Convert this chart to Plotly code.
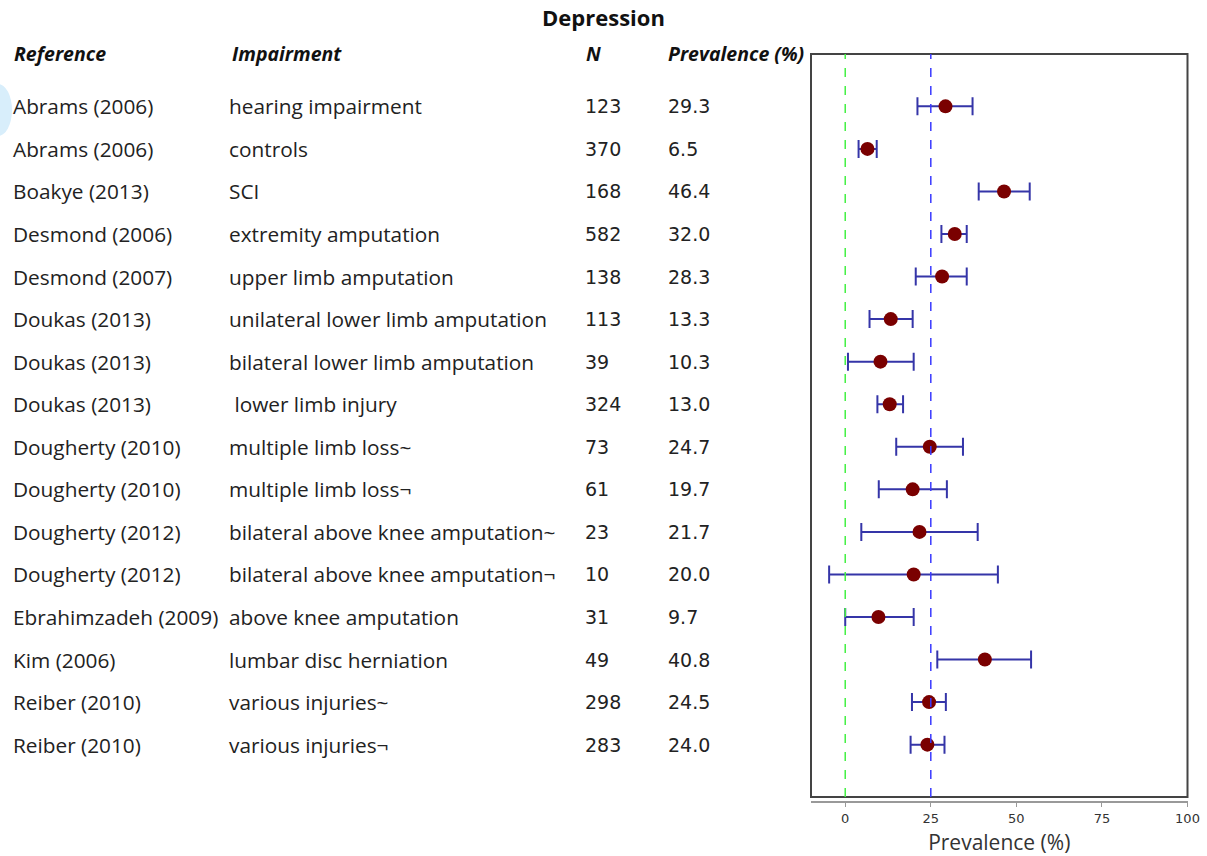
import plotly.graph_objects as go

references = ["Abrams (2006)", "Abrams (2006)", "Boakye (2013)", "Desmond (2006)", "Desmond (2007)",
              "Doukas (2013)", "Doukas (2013)", "Doukas (2013)", "Dougherty (2010)", "Dougherty (2010)",
              "Dougherty (2012)", "Dougherty (2012)", "Ebrahimzadeh (2009)", "Kim (2006)",
              "Reiber (2010)", "Reiber (2010)"]
impairments = ["hearing impairment", "controls", "SCI", "extremity amputation", "upper limb amputation",
               "unilateral lower limb amputation", "bilateral lower limb amputation", " lower limb injury",
               "multiple limb loss~", "multiple limb loss¬", "bilateral above knee amputation~",
               "bilateral above knee amputation¬", "above knee amputation", "lumbar disc herniation",
               "various injuries~", "various injuries¬"]
n_values = [123, 370, 168, 582, 138, 113, 39, 324, 73, 61, 23, 10, 31, 49, 298, 283]
prevalence = [29.3, 6.5, 46.4, 32.0, 28.3, 13.3, 10.3, 13.0, 24.7, 19.7, 21.7, 20.0, 9.7, 40.8, 24.5, 24.0]
ci_low = [21.1, 3.9, 39.0, 28.1, 20.6, 7.1, 0.8, 9.4, 14.9, 9.8, 4.7, -4.7, 0.0, 26.9, 19.5, 19.1]
ci_high = [37.2, 9.2, 53.9, 35.5, 35.5, 19.7, 20.0, 16.9, 34.4, 29.7, 38.7, 44.6, 20.0, 54.3, 29.4, 29.0]
x_ticks = [0, 25, 50, 75, 100]
ref_lines = [0, 25]

W, H = 1207, 856
rows = list(range(len(prevalence)))

fig = go.Figure()
fig.add_trace(go.Scatter(
    x=prevalence, y=rows, mode="markers",
    marker=dict(color="#7a0000", size=14, symbol="circle"),
    error_x=dict(type="data", symmetric=False,
                 array=[h - p for h, p in zip(ci_high, prevalence)],
                 arrayminus=[p - l for p, l in zip(prevalence, ci_low)],
                 color="#3535a8", thickness=2, width=9),
    showlegend=False, hoverinfo="skip",
))

x_dom = [811 / W, 1187.5 / W]
y_dom = [1 - 797 / H, 1 - 54 / H]

fig.update_layout(
    width=W, height=H, margin=dict(l=0, r=0, t=0, b=0, autoexpand=False), autosize=False,
    paper_bgcolor="white", plot_bgcolor="white",
    xaxis=dict(domain=x_dom, range=[-10, 100], tickvals=x_ticks, showgrid=False, zeroline=False,
               automargin=False,
               anchor="free", position=1 - 802 / H, showline=True, linecolor="#999999", linewidth=2,
               ticks="outside", ticklen=4, tickcolor="#999999",
               tickfont=dict(family="DejaVu Sans", size=13, color="#333333"),
               title=dict(text="Prevalence (%)", font=dict(family="Open Sans", size=21, color="#333333"),
                          standoff=10)),
    yaxis=dict(domain=y_dom, range=[16.23, -1.23], showgrid=False, zeroline=False, automargin=False,
               showticklabels=False, showline=False, ticks=""),
)

# box around plot area
fig.add_shape(type="rect", xref="x domain", yref="y domain", x0=0, x1=1, y0=0, y1=1,
              line=dict(color="#444444", width=2), layer="above")
# reference lines (drawn over the markers, as in the original)
for v, c in zip(ref_lines, ["#44f044", "#3a3aff"]):
    fig.add_shape(type="line", xref="x", yref="y domain", x0=v, x1=v, y0=0, y1=1,
                  line=dict(color=c, width=1.5, dash="dash"), layer="above")

# decorative light-blue blob at left edge
fig.add_shape(type="circle", xref="paper", yref="paper",
              x0=-16 / W, x1=12 / W, y0=1 - 136 / H, y1=1 - 84 / H,
              fillcolor="#d8eefb", line=dict(width=0), layer="below")

# title
fig.add_annotation(text="<b>Depression</b>", xref="paper", yref="paper", x=603 / W, y=1 - 17 / H,
                   showarrow=False, font=dict(family="Open Sans", size=22, color="#111111"),
                   xanchor="center", yanchor="middle")

# headers
hdr_font = dict(family="Open Sans", size=19.5, color="#111111")
for txt, xp in [("Reference", 12), ("Impairment", 230), ("N", 584), ("Prevalence (%)", 666)]:
    fig.add_annotation(text=f"<b><i>{txt}</i></b>", xref="paper", yref="paper", x=xp / W, y=1 - 53 / H,
                       showarrow=False, font=hdr_font, xanchor="left", yanchor="middle")

row_font = dict(family="Open Sans", size=20.8, color="#222222")
num_font = dict(family="DejaVu Sans", size=19, color="#222222")
for i in rows:
    fig.add_annotation(text=references[i], xref="paper", yref="y", x=11 / W, y=i, showarrow=False,
                       font=row_font, xanchor="left", yanchor="middle")
    imp = impairments[i]
    if imp.startswith(" "):
        imp = "&nbsp;" + imp[1:]
    fig.add_annotation(text=imp, xref="paper", yref="y", x=227 / W, y=i, showarrow=False,
                       font=row_font, xanchor="left", yanchor="middle")
    fig.add_annotation(text=str(n_values[i]), xref="paper", yref="y", x=583 / W, y=i, showarrow=False,
                       font=num_font, xanchor="left", yanchor="middle")
    fig.add_annotation(text=f"{prevalence[i]:.1f}", xref="paper", yref="y", x=666 / W, y=i, showarrow=False,
                       font=num_font, xanchor="left", yanchor="middle")

post = ("document.documentElement.style.overflow='hidden';"
        "document.body.style.margin='0';document.body.style.overflow='hidden';")
fig.write_html("out.html", config={"responsive": False}, post_script=post)
